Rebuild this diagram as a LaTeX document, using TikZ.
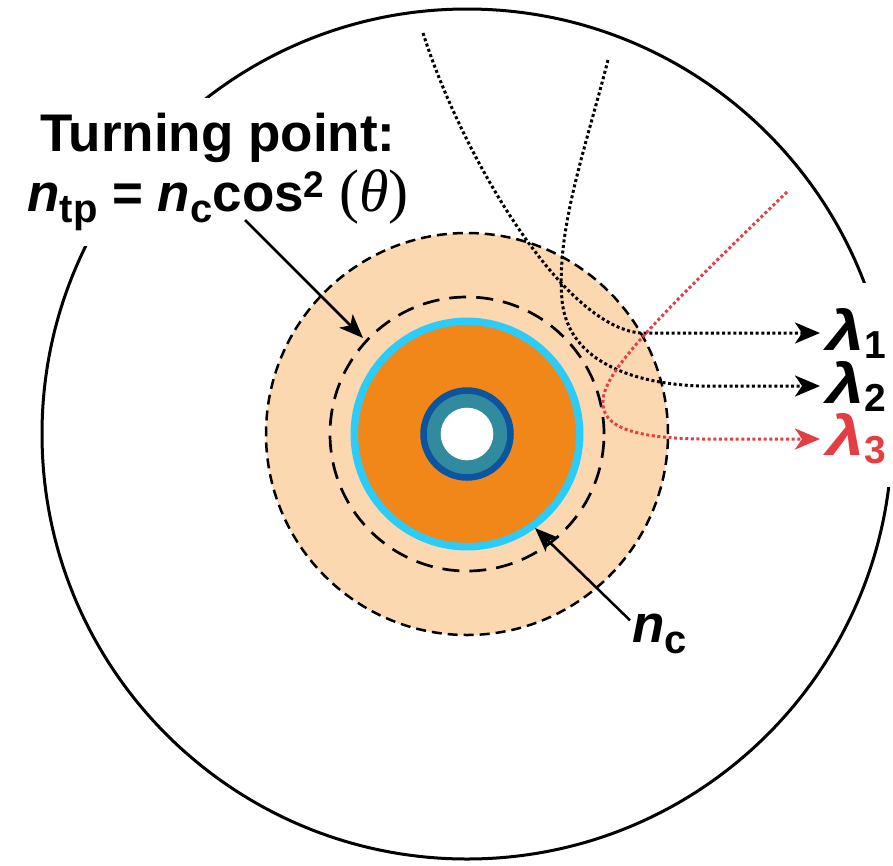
\documentclass[tikz,border=0pt]{standalone}
\usepackage{fontspec}
\setmainfont{Liberation Sans}
\newfontfamily\thetafont{Liberation Serif}
\usetikzlibrary{arrows.meta,positioning}
\definecolor{peach}{RGB}{252,216,177}
\definecolor{coreorange}{RGB}{241,135,24}
\definecolor{ringcyan}{RGB}{44,204,250}
\definecolor{shellteal}{RGB}{49,138,158}
\definecolor{shellblue}{RGB}{11,84,160}
\definecolor{rayred}{RGB}{227,62,67}
\newcommand{\lowidx}[1]{\raisebox{-11pt}{\fontsize{40}{40}\selectfont #1}}
\newcommand{\upidx}[1]{\raisebox{14pt}{\fontsize{37}{37}\selectfont #1}}
\newcommand{\lam}[1]{\scalebox{1.22}[1]{\fontsize{56}{58}\selectfont\textit{λ}}\raisebox{-8pt}{\fontsize{39}{39}\selectfont #1}}

\begin{document}
\begin{tikzpicture}[x=1pt,y=-1pt,
    bigtext/.style={font=\fontsize{53}{60}\selectfont\bfseries},
    pointer/.style={line width=2.5pt,-{Stealth[length=24pt,width=19pt,inset=6pt]}},
    ray/.style={line width=3pt,dash pattern=on 3pt off 2.6pt,
                -{Stealth[length=25pt,width=21pt,inset=7pt]}},
    lamlabel/.style={bigtext,anchor=west,inner xsep=6pt,inner ysep=0pt}]
  \useasboundingbox (0,0) rectangle (893,865);
  \coordinate (ctr) at (467,434);
  % outer boundary, cut where the labels stand
  \draw[line width=3pt] (ctr) circle (425pt);
  \fill[white] (812,283) rectangle (893,487);
  \node[bigtext,fill=white,align=center,inner xsep=4pt,inner ysep=15pt] (tp) at (218,172)
    {Turning point:\\{\itshape n}\lowidx{tp} = {\itshape n}\lowidx{c}cos\upidx{2} {\thetafont\mdseries\fontsize{60}{60}\selectfont(\textit{θ})}};
  \node[lamlabel] (lamA) at (820,333) {\lam{1}};
  \node[lamlabel] (lamB) at (820,386) {\lam{2}};
  \node[lamlabel,text=rayred] (lamC) at (820,439) {\lam{3}};
  \node[bigtext,anchor=base west,inner sep=2pt] (nc) at (630,642) {\textit{n}\lowidx{c}};
  % shells
  \fill[peach] (ctr) circle (201pt);
  \draw[line width=2.5pt,dash pattern=on 10pt off 6pt] (ctr) circle (201pt);
  \draw[line width=2.7pt,dash pattern=on 17pt off 10pt] (ctr) circle (137pt);
  \draw[ringcyan,fill=coreorange,line width=7.5pt] (ctr) circle (112.7pt);
  \draw[shellblue,fill=shellteal,line width=6.5pt] (ctr) circle (43.5pt);
  \fill[white] (ctr) circle (26.3pt);
  % pointers
  \coordinate (tpfoot) at (245,220);
  \coordinate (tprim) at (363,338);
  \coordinate (cyanrim) at (535,528);
  \draw[pointer] (tpfoot) -- (tprim);
  \draw[pointer] ([yshift=-9pt]nc.north west) -- (cyanrim);
  % rays
  \coordinate (rayA) at (423,33);
  \coordinate (rayB) at (608,60);
  \coordinate (rayC) at (787,192);
  \draw[ray] (rayA) .. controls (460,150) and (560,325) .. (640,333) -- (lamA.west);
  \draw[ray] (rayB) .. controls (585,150) and (556,230) .. (562,300)
                    .. controls (568,365) and (640,384) .. (700,386) -- (lamB.west);
  \draw[ray,rayred] (rayC) .. controls (660,315) and (605,370) .. (603,400)
                    .. controls (600,429) and (640,438) .. (700,439) -- (lamC.west);
\end{tikzpicture}
\end{document}
